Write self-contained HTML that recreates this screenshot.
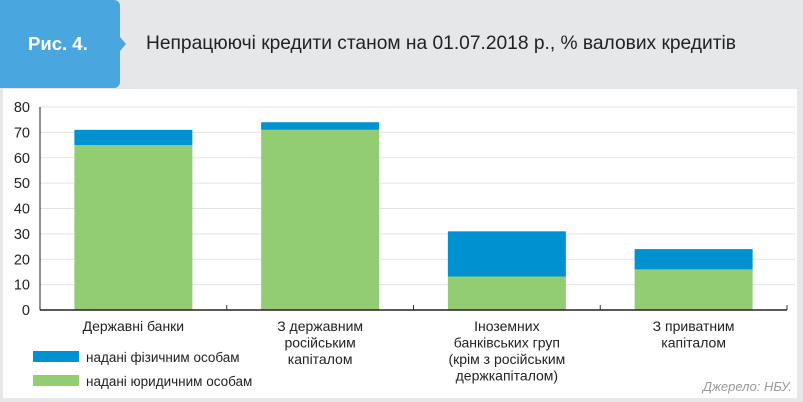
<!DOCTYPE html>
<html><head><meta charset="utf-8"><style>
body{margin:0;width:803px;height:402px;background:#e6e7e9;font-family:"Liberation Sans",sans-serif;overflow:hidden;position:relative}
#hdr{position:absolute;left:0;top:0;width:803px;height:88px;background:#e6e7e9}
#tab{position:absolute;left:0;top:0;width:120px;height:88px;background:#4aa6de;border-radius:0 6px 6px 0}
#tab span{position:absolute;left:28px;top:33px;color:#fff;font-weight:bold;font-size:18.5px}
#arrow{position:absolute;left:120px;top:37px;width:0;height:0;border-top:7px solid transparent;border-bottom:7px solid transparent;border-left:6px solid #4aa6de}
#title{position:absolute;left:146px;top:33px;font-size:19.2px;color:#222}
#panel{position:absolute;left:3px;top:89px;width:794px;height:309px;background:#fff}
</style></head><body>
<div id="hdr">
<div id="tab"><span>Рис. 4.</span></div>
<div id="arrow"></div>
<div id="title">Непрацюючі кредити станом на 01.07.2018 р., % валових кредитів</div>
</div>
<div id="panel"></div>
<svg id="chart" width="803" height="402" style="position:absolute;left:0;top:0"></svg>
<script>
const categories=[["Державні банки"],["З державним","російським","капіталом"],["Іноземних","банківських груп","(крім з російським","держкапіталом)"],["З приватним","капіталом"]];
const legalValues=[65,71,13.2,16];
const individualValues=[6,3,17.8,8];
const yTicks=[0,10,20,30,40,50,60,70,80];
const NS="http://www.w3.org/2000/svg";
const svg=document.getElementById('chart');
const x0=40,x1=787,y0=310,yTop=107,yMax=80;
const band=(x1-x0)/categories.length,bw=118;
const y=v=>y0-(v/yMax)*(y0-yTop);
const xc=i=>x0+band*(i+0.5);
function mk(t,a){const e=document.createElementNS(NS,t);for(const k in a)e.setAttribute(k,a[k]);svg.appendChild(e);return e;}
yTicks.forEach(t=>{
 if(t>0){const g=mk('line',{x1:x0,x2:x1+8,y1:y(t),y2:y(t),stroke:'#e3e3e3','stroke-width':1});
 
 }
 const l=mk('text',{x:30,y:y(t)+5,'text-anchor':'end','font-size':14.5,fill:'#222'});l.textContent=t;
 
 
});
categories.forEach((c,i)=>{
 const r1=mk('rect',{x:xc(i)-bw/2,y:y(legalValues[i]),width:bw,height:y0-y(legalValues[i]),fill:'#92cd74'});
 
 
 const tot=legalValues[i]+individualValues[i];
 const r2=mk('rect',{x:xc(i)-bw/2,y:y(tot),width:bw,height:y(legalValues[i])-y(tot),fill:'#0092d0'});
 
 
 const t=mk('text',{x:xc(i),y:331,'text-anchor':'middle','font-size':14,fill:'#222'});
 
 
 c.forEach((s,j)=>{const ts=document.createElementNS(NS,'tspan');ts.setAttribute('x',xc(i));ts.setAttribute('dy',j?16.5:0);ts.textContent=s;t.appendChild(ts);});
 if(i>0){const tk=mk('line',{x1:x0+band*i,x2:x0+band*i,y1:y0,y2:y0-5,stroke:'#333'});
 
 }
});
const ax=mk('line',{x1:x0,x2:x1,y1:y0,y2:y0,stroke:'#222','stroke-width':1.5});


const ay=mk('line',{x1:x0,x2:x0,y1:yTop,y2:y0,stroke:'#222','stroke-width':1});


const rt=mk('line',{x1:x1,x2:x1,y1:y0,y2:y0-5,stroke:'#333'});


[['#0092d0','надані фізичним особам',358],['#92cd74','надані юридичним особам',382]].forEach((e,i)=>{
 const r=mk('rect',{x:33,y:e[2]-7,width:46,height:11,fill:e[0]});
 
 
 const t=mk('text',{x:86,y:e[2]+4,'font-size':13.5,fill:'#222'});t.textContent=e[1];
 
 
});
const src=mk('text',{x:792,y:391,'text-anchor':'end','font-size':13,fill:'#999','font-style':'italic'});src.textContent='Джерело: НБУ.';


</script>
</body></html>
